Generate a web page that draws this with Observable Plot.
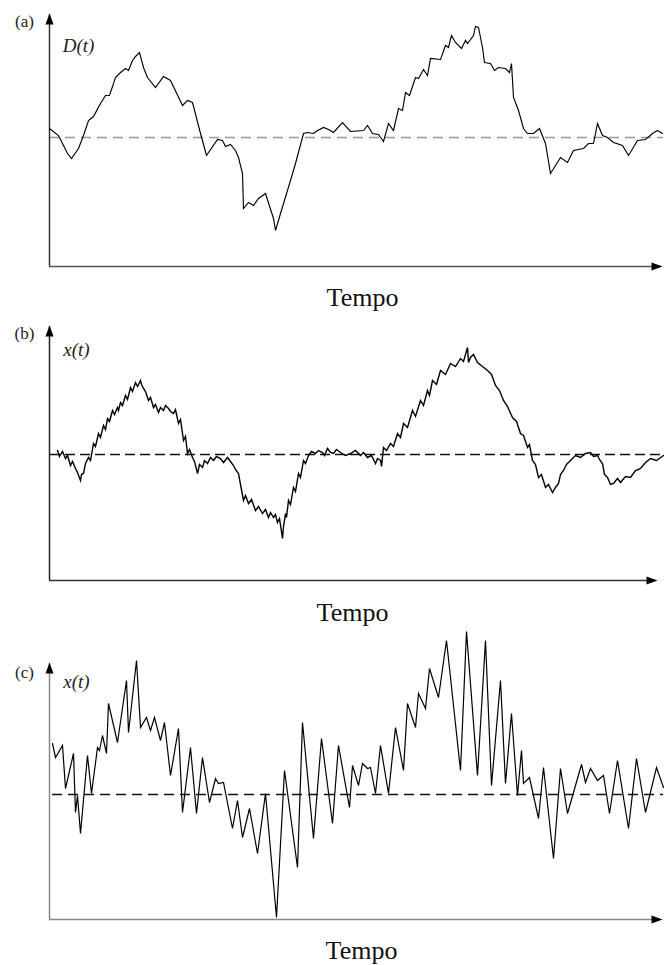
<!DOCTYPE html>
<html>
<head>
<meta charset="utf-8">
<script src="https://cdn.jsdelivr.net/npm/d3@7"></script>
<script src="https://cdn.jsdelivr.net/npm/@observablehq/plot@0.6"></script>
<style>
  html, body { margin: 0; padding: 0; background: #fff; }
  #chart { width: 664px; }
  #chart svg { display: block; overflow: visible; }
</style>
</head>
<body>
<div id="chart"></div>
<script>
// ---- DATA (time index, deviation from the mean level) ----
const panelLetters = ["(a)", "(b)", "(c)"];
const yLabels = ["D(t)", "x(t)", "x(t)"];
const xLabel = "Tempo";
const meanLevel = 0;

// (a) D(t)
const panelA = [
  [0,9],[9,2],[13,-6],[18,-16],[22,-21],[29,-11],[34,2],[39,17],[44,21],[51,34],[56,42],[60,42],
  [66,60],[71,65],[76,69],[79,67],[83,77],[86,81],[90,85],[94,70],[98,60],[106,50],[114,61],[121,57],
  [133,32],[138,37],[143,35],[151,4],[157,-18],[168,-2],[173,-3],[176,-9],[181,-7],[186,-13],[189,-20],
  [193,-36],[194,-71],[199,-65],[204,-68],[209,-61],[216,-56],[224,-81],[226,-93],[231,-76],[238,-53],
  [246,-26],[254,4],[258,5],[264,4],[268,7],[274,10],[279,8],[284,5],[293,15],[301,6],[314,7],[318,12],
  [323,4],[329,3],[334,-4],[339,14],[344,7],[349,29],[353,27],[356,45],[360,42],[366,60],[369,59],
  [374,68],[378,62],[381,79],[391,78],[396,92],[399,90],[402,102],[406,95],[412,89],[416,97],[418,94],
  [424,102],[426,111],[429,110],[433,90],[435,75],[441,74],[445,67],[449,70],[456,69],[460,65],[462,74],
  [464,40],[469,27],[474,9],[478,4],[484,4],[490,9],[496,-6],[501,-36],[511,-20],[518,-25],[524,-13],
  [534,-11],[539,-6],[544,-6],[548,14],[553,2],[558,0],[564,-5],[573,-8],[579,-18],[588,-3],[596,-2],
  [603,4],[608,7],[613,4]
];

// (b) x(t)
const panelB = [
  [8,4],[10,-2],[11,0],[13,3],[16,-4],[18,-1],[21,-11],[23,-7],[26,-14],[28,-18],[31,-26],[32,-20],
  [34,-19],[36,-9],[39,-3],[41,-6],[44,11],[46,8],[49,21],[51,17],[54,29],[56,25],[58,36],[60,33],
  [63,44],[65,40],[68,47],[69,44],[71,52],[73,49],[76,59],[78,55],[81,67],[83,63],[86,72],[88,68],
  [91,74],[92,70],[94,66],[96,63],[99,54],[101,57],[104,47],[106,50],[109,42],[111,47],[114,44],
  [116,49],[119,46],[121,43],[124,41],[126,45],[129,31],[131,35],[134,14],[136,18],[138,1],[140,5],
  [143,-3],[145,-7],[148,-19],[150,-10],[153,-13],[155,-6],[158,-9],[161,-3],[164,-6],[167,-2],
  [171,-4],[174,-8],[178,-3],[181,-7],[184,-11],[186,-15],[189,-19],[191,-30],[194,-46],[196,-41],
  [199,-49],[202,-45],[206,-56],[209,-52],[213,-59],[216,-55],[219,-63],[221,-58],[224,-63],[226,-60],
  [228,-68],[230,-64],[233,-84],[234,-72],[236,-59],[237,-63],[239,-46],[241,-50],[244,-33],[246,-37],
  [249,-19],[251,-23],[254,-6],[256,-9],[259,-1],[262,3],[266,1],[269,4],[273,2],[275,-1],[278,6],
  [281,2],[284,1],[287,5],[291,2],[296,-1],[301,1],[306,4],[311,-1],[314,2],[318,-3],[322,-1],
  [326,-9],[328,-4],[331,-6],[332,-12],[334,7],[337,4],[341,11],[344,8],[348,21],[351,17],[354,31],
  [358,27],[363,44],[366,38],[371,54],[374,49],[378,64],[380,59],[383,74],[387,70],[391,84],[396,80],
  [401,91],[406,88],[411,96],[414,93],[418,107],[419,92],[421,97],[424,100],[428,92],[433,88],[438,84],
  [442,80],[446,69],[450,64],[454,54],[458,48],[463,37],[467,33],[471,21],[474,19],[478,7],[480,10],
  [483,-6],[486,-10],[489,-23],[492,-20],[496,-33],[499,-30],[503,-38],[506,-33],[509,-29],[511,-20],
  [514,-16],[517,-10],[521,-6],[526,-1],[531,-3],[536,1],[541,2],[544,-2],[548,-1],[550,-5],[553,-9],
  [555,-20],[558,-23],[561,-30],[564,-29],[568,-24],[571,-28],[576,-22],[581,-23],[586,-16],[591,-14],
  [596,-8],[601,-4],[607,-6],[614,-1]
];

// (c) x(t)
const panelC = [
  [3,51],[6,37],[13,49],[16,6],[24,41],[26,-18],[28,-1],[31,-39],[38,39],[42,1],[48,47],[50,44],
  [53,59],[57,41],[59,91],[68,52],[77,114],[79,62],[87,134],[91,67],[97,77],[101,64],[105,77],[111,54],
  [115,72],[121,19],[129,66],[133,-18],[141,47],[147,-19],[153,37],[160,-8],[166,16],[169,11],[174,12],
  [183,-34],[188,-6],[193,-43],[200,-14],[208,-59],[216,1],[227,-123],[235,24],[248,-73],[253,72],
  [264,-44],[272,56],[283,-29],[289,49],[300,-13],[303,29],[309,9],[313,31],[318,26],[321,27],[326,1],
  [331,49],[339,1],[346,67],[354,24],[358,91],[366,67],[369,101],[376,86],[380,126],[389,97],[397,154],
  [411,24],[417,163],[428,19],[436,154],[442,9],[451,114],[456,11],[462,81],[468,-1],[472,44],[474,11],
  [480,17],[489,-24],[494,27],[504,-64],[511,26],[518,-19],[532,30],[536,12],[541,26],[548,14],[554,19],
  [560,-19],[568,34],[579,-34],[587,36],[596,-18],[607,27],[614,7]
];

// ---- CHART ----
const arrowHead = {
  draw(ctx) { ctx.moveTo(0, 0); ctx.lineTo(4, 11); ctx.lineTo(-4, 11); ctx.closePath(); }
};
const serif = "'Liberation Serif', 'Times New Roman', serif";

const panels = [
  {data: panelA, letter: panelLetters[0], ylab: yLabels[0], height: 318, mt: 13, mb: 52, ydom: [-129, 124],
   xEnd: 613, dash: [0, 614], dashColor: "#999", dashW: 1.6, dashArray: "10,6", lineW: 1.15,
   axisY: "#333", axisX: "#555", letterDy: 8, ylabDx: 29, ylabDy: 32, tempoDx: 6.5, tempoDy: 30.7},
  {data: panelB, letter: panelLetters[1], ylab: yLabels[1], height: 310, mt: 7, mb: 48, ydom: [-126, 129],
   xEnd: 608, dash: [1, 614], dashColor: "#111", dashW: 1.4, dashArray: "10,5", lineW: 1.4,
   axisY: "#222", axisX: "#333", letterDy: 8, ylabDx: 27, ylabDy: 24, tempoDx: -3.5, tempoDy: 31.7},
  {data: panelC, letter: panelLetters[2], ylab: yLabels[2], height: 337, mt: 34, mb: 46, ydom: [-125, 132],
   xEnd: 613, dash: [3, 614], dashColor: "#111", dashW: 1.3, dashArray: "10,6", lineW: 1.2,
   axisY: "#888", axisX: "#888", letterDy: 10, ylabDx: 27, ylabDy: 19, tempoDx: 5.5, tempoDy: 30.7}
];

const container = document.getElementById("chart");
for (const p of panels) {
  const lo = p.ydom[0], hi = p.ydom[1];
  const svg = Plot.plot({
    width: 664,
    height: p.height,
    marginLeft: 49,
    marginRight: 2,
    marginTop: p.mt,
    marginBottom: p.mb,
    x: {domain: [0, 613], axis: null},
    y: {domain: p.ydom, axis: null},
    style: {background: "#fff", fontFamily: serif, overflow: "visible"},
    marks: [
      // mean level (dashed)
      Plot.ruleY([meanLevel], {x1: p.dash[0], x2: p.dash[1], stroke: p.dashColor, strokeWidth: p.dashW, strokeDasharray: p.dashArray}),
      // axes
      Plot.ruleX([0], {y1: lo, y2: hi - 1, stroke: p.axisY, strokeWidth: 1.5}),
      Plot.ruleY([lo], {x1: 0, x2: p.xEnd - 2, stroke: p.axisX, strokeWidth: 1.5}),
      Plot.dot([[0, hi]], {x: d => d[0], y: d => d[1], symbol: arrowHead, fill: "#000", stroke: "none", r: 4}),
      Plot.dot([[p.xEnd, lo]], {x: d => d[0], y: d => d[1], symbol: arrowHead, fill: "#000", stroke: "none", r: 4, rotate: 90}),
      // series
      Plot.line(p.data, {x: d => d[0], y: d => d[1], stroke: "#000", strokeWidth: p.lineW, strokeLinejoin: "miter", strokeMiterlimit: 4}),
      // labels
      Plot.text([p.letter], {frameAnchor: "top-left", dx: -25, dy: p.letterDy, textAnchor: "middle", lineAnchor: "middle", fontSize: 17, fill: "#222", fontFamily: serif}),
      Plot.text([p.ylab], {frameAnchor: "top-left", dx: p.ylabDx, dy: p.ylabDy, textAnchor: "middle", lineAnchor: "middle", fontSize: 19, fontStyle: "italic", fill: "#222", fontFamily: serif}),
      Plot.text([xLabel], {frameAnchor: "bottom", dx: p.tempoDx, dy: p.tempoDy, textAnchor: "middle", lineAnchor: "middle", fontSize: 26, fill: "#111", fontFamily: serif})
    ]
  });
  container.appendChild(svg);
}
</script>
</body>
</html>
